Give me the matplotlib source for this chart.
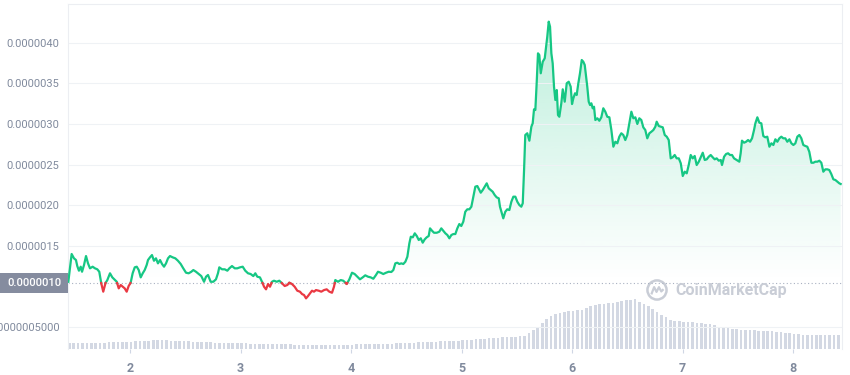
import numpy as np
import matplotlib
matplotlib.use("Agg")
import matplotlib.pyplot as plt
from matplotlib.patches import Rectangle, Circle
from matplotlib.transforms import blended_transform_factory

plt.rcParams['font.family'] = ['Roboto', 'DejaVu Sans']

# ---------------- data ----------------
# time axis (day of month)
days = [
    1.442, 1.472, 1.493, 1.511, 1.523, 1.538, 1.554, 1.566, 1.584, 1.602,
    1.620, 1.638, 1.662, 1.683, 1.704, 1.722, 1.740, 1.758, 1.777, 1.795,
    1.819, 1.840, 1.858, 1.880, 1.898, 1.916, 1.934, 1.952, 1.970, 1.988,
    2.006, 2.024, 2.043, 2.061, 2.079, 2.097, 2.115, 2.133, 2.151, 2.163,
    2.181, 2.199, 2.217, 2.235, 2.253, 2.272, 2.290, 2.308, 2.326, 2.344,
    2.362, 2.386, 2.410, 2.434, 2.459, 2.482, 2.507, 2.531, 2.555, 2.573,
    2.597, 2.622, 2.645, 2.670, 2.688, 2.706, 2.730, 2.754, 2.778, 2.796,
    2.808, 2.833, 2.857, 2.881, 2.899, 2.923, 2.948, 2.971, 2.995, 3.020,
    3.043, 3.068, 3.092, 3.116, 3.134, 3.152, 3.176, 3.195, 3.213, 3.231,
    3.249, 3.267, 3.285, 3.303, 3.328, 3.351, 3.376, 3.400, 3.424, 3.442,
    3.466, 3.490, 3.514, 3.538, 3.557, 3.575, 3.593, 3.611, 3.629, 3.647,
    3.665, 3.683, 3.708, 3.731, 3.756, 3.780, 3.804, 3.828, 3.846, 3.858,
    3.882, 3.907, 3.930, 3.961, 3.985, 4.009, 4.033, 4.057, 4.081, 4.106,
    4.129, 4.154, 4.178, 4.202, 4.226, 4.244, 4.269, 4.292, 4.317, 4.341,
    4.365, 4.383, 4.401, 4.419, 4.437, 4.455, 4.473, 4.492, 4.510, 4.528,
    4.541, 4.559, 4.577, 4.595, 4.613, 4.631, 4.649, 4.667, 4.685, 4.703,
    4.715, 4.733, 4.751, 4.776, 4.799, 4.817, 4.835, 4.854, 4.872, 4.890,
    4.908, 4.926, 4.944, 4.962, 4.980, 4.998, 5.016, 5.034, 5.052, 5.071,
    5.089, 5.107, 5.125, 5.143, 5.174, 5.192, 5.210, 5.228, 5.246, 5.264,
    5.282, 5.300, 5.318, 5.337, 5.348, 5.367, 5.378, 5.396, 5.414, 5.433,
    5.451, 5.469, 5.487, 5.505, 5.523, 5.541, 5.554, 5.566, 5.577, 5.595,
    5.614, 5.632, 5.644, 5.656, 5.668, 5.680, 5.692, 5.704, 5.717, 5.735,
    5.753, 5.765, 5.776, 5.789, 5.801, 5.813, 5.825, 5.837, 5.849, 5.862,
    5.873, 5.885, 5.903, 5.916, 5.934, 5.952, 5.970, 5.988, 6.000, 6.012,
    6.027, 6.042, 6.057, 6.072, 6.088, 6.102, 6.115, 6.127, 6.138, 6.151,
    6.163, 6.175, 6.187, 6.199, 6.211, 6.229, 6.247, 6.265, 6.283, 6.301,
    6.319, 6.338, 6.356, 6.374, 6.392, 6.410, 6.428, 6.446, 6.464, 6.482,
    6.500, 6.519, 6.537, 6.555, 6.573, 6.591, 6.609, 6.627, 6.645, 6.663,
    6.681, 6.700, 6.718, 6.736, 6.754, 6.766, 6.785, 6.803, 6.821, 6.839,
    6.857, 6.875, 6.893, 6.911, 6.929, 6.947, 6.966, 6.984, 7.002, 7.020,
    7.038, 7.056, 7.074, 7.092, 7.110, 7.128, 7.147, 7.165, 7.183, 7.201,
    7.219, 7.237, 7.255, 7.273, 7.291, 7.309, 7.328, 7.346, 7.357, 7.376,
    7.394, 7.412, 7.430, 7.448, 7.466, 7.490, 7.514, 7.526, 7.538, 7.557,
    7.575, 7.593, 7.611, 7.629, 7.647, 7.659, 7.677, 7.695, 7.713, 7.731,
    7.749, 7.767, 7.786, 7.804, 7.822, 7.840, 7.858, 7.876, 7.894, 7.912,
    7.930, 7.948, 7.967, 7.985, 8.003, 8.021, 8.039, 8.057, 8.075, 8.093,
    8.111, 8.129, 8.147, 8.166, 8.184, 8.202, 8.220, 8.238, 8.256, 8.274,
    8.292, 8.310, 8.328, 8.346, 8.365, 8.383, 8.401, 8.419, 8.431,
]

# price in micro-units (x 1e-6)
price_micro = [
    1.061, 1.402, 1.349, 1.328, 1.254, 1.197, 1.246, 1.184, 1.267, 1.377,
    1.287, 1.226, 1.246, 1.226, 1.214, 1.184, 1.042, 0.939, 1.042, 1.082,
    1.165, 1.115, 1.091, 1.061, 0.980, 1.021, 1.000, 0.980, 0.939, 1.009,
    1.049, 1.165, 1.238, 1.246, 1.205, 1.115, 1.165, 1.205, 1.267, 1.328,
    1.361, 1.389, 1.319, 1.349, 1.287, 1.328, 1.279, 1.246, 1.287, 1.349,
    1.377, 1.361, 1.349, 1.319, 1.279, 1.226, 1.172, 1.165, 1.184, 1.205,
    1.184, 1.156, 1.131, 1.061, 1.123, 1.144, 1.061, 1.061, 1.091, 1.165,
    1.238, 1.214, 1.214, 1.197, 1.226, 1.254, 1.226, 1.226, 1.238, 1.246,
    1.197, 1.165, 1.156, 1.131, 1.165, 1.123, 1.115, 1.061, 1.000, 0.968,
    1.033, 1.000, 1.061, 1.074, 1.061, 1.074, 1.042, 1.009, 1.021, 1.049,
    1.033, 1.000, 0.951, 0.939, 0.910, 0.898, 0.857, 0.886, 0.919, 0.951,
    0.939, 0.959, 0.951, 0.939, 0.959, 0.968, 0.939, 0.926, 1.000, 1.082,
    1.061, 1.082, 1.074, 1.033, 1.091, 1.172, 1.156, 1.123, 1.091, 1.115,
    1.140, 1.123, 1.115, 1.098, 1.144, 1.184, 1.172, 1.156, 1.172, 1.184,
    1.181, 1.205, 1.287, 1.295, 1.279, 1.287, 1.279, 1.307, 1.369, 1.533,
    1.614, 1.607, 1.656, 1.623, 1.574, 1.595, 1.541, 1.582, 1.607, 1.623,
    1.717, 1.688, 1.663, 1.663, 1.676, 1.717, 1.688, 1.656, 1.635, 1.595,
    1.635, 1.647, 1.647, 1.717, 1.770, 1.746, 1.799, 1.921, 1.951, 1.951,
    1.983, 2.106, 2.229, 2.237, 2.155, 2.188, 2.229, 2.270, 2.209, 2.188,
    2.167, 2.127, 2.098, 2.086, 1.983, 1.893, 1.840, 1.921, 1.951, 1.942,
    2.044, 2.106, 2.106, 2.044, 2.004, 1.983, 2.025, 2.434, 2.864, 2.885,
    2.794, 2.966, 3.007, 3.179, 3.171, 3.499, 3.867, 3.846, 3.622, 3.764,
    3.806, 3.948, 4.071, 4.256, 4.194, 3.867, 3.744, 3.457, 3.294, 3.416,
    3.109, 3.088, 3.253, 3.425, 3.273, 3.499, 3.518, 3.457, 3.244, 3.315,
    3.376, 3.355, 3.499, 3.622, 3.785, 3.764, 3.724, 3.580, 3.457, 3.273,
    3.232, 3.253, 3.192, 3.211, 3.048, 3.069, 3.039, 3.081, 3.192, 3.150,
    3.088, 3.081, 2.925, 2.720, 2.781, 2.762, 2.843, 2.885, 2.864, 2.802,
    2.864, 3.007, 3.150, 3.069, 3.081, 2.999, 3.069, 3.048, 2.958, 2.925,
    2.823, 2.885, 2.904, 2.925, 2.966, 3.027, 2.974, 2.966, 2.958, 2.864,
    2.843, 2.802, 2.577, 2.590, 2.618, 2.577, 2.577, 2.516, 2.360, 2.413,
    2.393, 2.495, 2.618, 2.577, 2.606, 2.495, 2.536, 2.590, 2.646, 2.557,
    2.565, 2.597, 2.618, 2.590, 2.565, 2.577, 2.548, 2.557, 2.495, 2.597,
    2.630, 2.639, 2.618, 2.618, 2.577, 2.557, 2.536, 2.639, 2.794, 2.769,
    2.781, 2.802, 2.781, 2.823, 2.925, 3.007, 3.081, 3.015, 3.007, 2.851,
    2.835, 2.843, 2.720, 2.762, 2.741, 2.811, 2.781, 2.823, 2.843, 2.823,
    2.823, 2.781, 2.811, 2.762, 2.741, 2.762, 2.843, 2.864, 2.823, 2.741,
    2.729, 2.720, 2.658, 2.523, 2.523, 2.536, 2.536, 2.548, 2.523, 2.413,
    2.442, 2.442, 2.434, 2.385, 2.319, 2.311, 2.290, 2.270, 2.262,
]

open_price_micro = 1.045  # reference (period open) price

# trading volume (relative units), one bar every 0.04 day starting at day 1.45
vol_start, vol_step = 1.45, 0.04
volume = [
    6.0, 6.0, 6.2, 6.0, 6.2, 6.3, 6.3, 6.5, 6.5, 6.8,
    7.0, 7.0, 7.2, 7.3, 7.5, 7.8, 8.0, 8.2, 8.5, 8.7,
    8.8, 8.8, 8.7, 8.5, 8.3, 8.0, 7.8, 7.6, 7.4, 7.2,
    7.0, 6.8, 6.6, 6.5, 6.3, 6.2, 6.0, 5.9, 5.8, 5.7,
    5.6, 5.5, 5.4, 5.3, 5.2, 5.1, 5.0, 4.9, 4.8, 4.7,
    4.6, 4.5, 4.4, 4.3, 4.2, 4.2, 4.1, 4.1, 4.1, 4.2,
    4.2, 4.3, 4.3, 4.4, 4.5, 4.6, 4.7, 4.8, 4.9, 5.0,
    5.1, 5.2, 5.3, 5.4, 5.6, 5.8, 6.0, 6.2, 6.4, 6.6,
    6.8, 7.0, 7.2, 7.4, 7.6, 7.8, 8.0, 8.2, 8.4, 8.6,
    8.9, 9.2, 9.6, 10.0, 10.4, 10.8, 11.1, 11.4, 11.6, 11.8,
    12.0, 12.3, 12.7, 13.5, 16.5, 19.5, 22.5, 26.5, 30.0, 33.0,
    35.0, 36.5, 37.5, 38.0, 38.5, 39.0, 39.5, 41.5, 43.5, 44.5,
    45.0, 45.5, 46.0, 46.5, 47.5, 48.3, 48.8, 49.3, 50.0, 47.5,
    45.0, 43.0, 40.5, 37.5, 34.5, 31.7, 29.0, 28.0, 27.8, 27.5,
    27.3, 27.0, 26.5, 26.0, 25.5, 25.0, 24.0, 22.5, 21.5, 20.7,
    20.0, 19.6, 19.3, 19.0, 18.8, 18.6, 18.4, 18.2, 18.0, 17.8,
    17.5, 17.3, 16.5, 15.8, 15.2, 14.8, 14.5, 14.2, 14.0, 14.0,
    14.0, 14.0, 14.0, 14.0, 14.0,
]

x_ticks = [2, 3, 4, 5, 6, 7, 8]
y_ticks_micro = [0.5, 1.5, 2.0, 2.5, 3.0, 3.5, 4.0]
y_tick_labels = ['0.0000005000', '0.0000015', '0.0000020', '0.0000025',
                 '0.0000030', '0.0000035', '0.0000040']
open_label = '0.0000010'

# ---------------- styling ----------------
GREEN = '#16c784'
RED = '#ea3943'
LABEL = '#808a9d'
GRID = '#eff2f5'

x = np.array(days)
y = np.array(price_micro) * 1e-6
base = open_price_micro * 1e-6

# insert crossing points so the colour changes exactly at the open price
xs, ys = [x[0]], [y[0]]
for i in range(1, len(x)):
    if (y[i - 1] - base) * (y[i] - base) < 0:
        t = (base - y[i - 1]) / (y[i] - y[i - 1])
        xs.append(x[i - 1] + t * (x[i] - x[i - 1]))
        ys.append(base)
    xs.append(x[i])
    ys.append(y[i])
xs, ys = np.array(xs), np.array(ys)
y_up = np.where(ys >= base, ys, np.nan)
y_dn = np.where(ys <= base, ys, np.nan)

fig = plt.figure(figsize=(8.5, 3.75), dpi=100)
rect = [68 / 850, 26 / 375, (842 - 68) / 850, (349 - 4) / 375]
xmin, xmax = 1.439, 8.443
ymin, ymax = 0.235e-6, 4.473e-6

# volume axes (behind)
vax = fig.add_axes(rect, zorder=0)
vx = vol_start + vol_step * np.arange(len(volume))
vax.bar(vx, volume, width=vol_step * 0.6, color='#d3d8e3', linewidth=0)
vax.set_xlim(xmin, xmax)
vax.set_ylim(0, max(volume) * 6.9)
vax.axis('off')

ax = fig.add_axes(rect, zorder=1)
ax.patch.set_visible(False)

# gradient fill between price and the open price
poly = ax.fill_between(xs, base, np.maximum(ys, base), facecolor='none',
                       edgecolor='none')
n = 256
grad = np.zeros((n, 1, 4))
rgb = matplotlib.colors.to_rgb(GREEN)
grad[:, 0, 0], grad[:, 0, 1], grad[:, 0, 2] = rgb
grad[:, 0, 3] = np.linspace(0.0, 0.33, n) ** 1.1
img = ax.imshow(grad, extent=[xmin, xmax, base, y.max()], origin='lower',
                aspect='auto', zorder=1, interpolation='bilinear')
img.set_clip_path(poly.get_paths()[0], transform=ax.transData)

ax.plot(xs, y_up, color=GREEN, lw=1.6, zorder=3, solid_joinstyle='round')
ax.plot(xs, y_dn, color=RED, lw=1.6, zorder=3, solid_joinstyle='round')
ax.axhline(base, color='#a9b1c1', lw=0.8, ls=(0, (1, 2.2)), zorder=2)

ax.set_xlim(xmin, xmax)
ax.set_ylim(ymin, ymax)

yt = [v * 1e-6 for v in y_ticks_micro]
ax.set_yticks(yt)
ax.set_yticklabels(y_tick_labels)
ax.set_xticks(x_ticks)
ax.set_xticklabels([str(v) for v in x_ticks])
ax.tick_params(axis='y', length=0, pad=6, labelsize=8, labelcolor=LABEL)
ax.tick_params(axis='x', length=3, width=0.8, color='#cfd6e4', pad=6,
               labelsize=9, labelcolor=LABEL)
for lab in ax.get_xticklabels():
    lab.set_fontweight('bold')
ax.grid(axis='y', color=GRID, lw=0.8, zorder=0)
for s in ['left', 'right', 'top']:
    ax.spines[s].set_color('#eceef2')
    ax.spines[s].set_linewidth(0.8)
ax.spines['bottom'].set_visible(False)

# open-price label box on the y axis
trans = blended_transform_factory(ax.transAxes, ax.transData)
box_w = 68 / 774
box_h = 20 / 81.4 * 1e-6
ax.add_patch(Rectangle((-box_w, base - box_h / 2), box_w, box_h,
                       transform=trans, facecolor='#858c9f', edgecolor='none',
                       clip_on=False, zorder=5))
ax.text(-box_w / 2, base, open_label, transform=trans, ha='center',
        va='center', color='white', fontsize=8, fontweight='medium',
        zorder=6)

# watermark
wm = '#c9cdd6'
fig.text(675 / 850, 1 - 290 / 375, 'CoinMarketCap', color=wm, fontsize=11.5,
         fontweight='bold', va='center', ha='left')
lax = fig.add_axes([646 / 850, 1 - 301 / 375, 22 / 850, 22 / 375])
lax.set_xlim(-1.15, 1.15)
lax.set_ylim(-1.15, 1.15)
lax.set_aspect('equal')
lax.axis('off')
lax.add_patch(Circle((0, 0), 1.0, fill=False, lw=1.8, color=wm))
lax.plot([-0.55, -0.3, -0.05, 0.2, 0.45, 0.6], [-0.35, 0.3, -0.2, 0.3, -0.15, 0.0],
         color=wm, lw=1.6)

fig.savefig('out.png', dpi=100)
